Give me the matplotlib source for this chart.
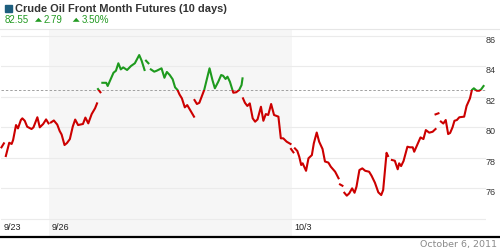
import matplotlib
matplotlib.use("Agg")
import matplotlib.pyplot as plt
from matplotlib.lines import Line2D
from matplotlib.patches import Rectangle, Polygon
import numpy as np

matplotlib.rcParams['font.family'] = ['Liberation Sans', 'DejaVu Sans']

W, H = 500, 250

TITLE = "Crude Oil Front Month Futures (10 days)"
LAST = "82.55"
CHANGE = "2.79"
CHANGE_PCT = "3.50%"
DATE_TEXT = "October 6, 2011"

REF_LEVEL = 82.4

day_labels = ["9/23", "9/26", "10/3"]
day_label_pos = [0, 1, 6]
week_shade = (1, 6)

y_ticks = [74, 76, 78, 80, 82, 84, 86]
y_tick_labels = ["", "76", "78", "80", "82", "84", "86"]

nan = np.nan
# position in trading days (0 = open of 9/23), nan = gap in the series
t = [0.02, 0.07, nan,
     0.11, 0.18, 0.23, 0.26, 0.32, 0.36, 0.42, 0.45, 0.50, 0.55, 0.64, 0.68, 0.76, 0.81, 0.88, 0.94, 0.99, nan,
     1.04, 1.10, 1.17, 1.22, 1.26, 1.32, 1.37, 1.43, 1.49, 1.54, 1.60, 1.70, 1.75, 1.81, 1.88, 1.95, 1.99, nan,
     2.01, 2.06, nan,
     2.10, 2.18, 2.21, 2.28, 2.33, 2.38, 2.43, 2.48, 2.53, 2.61, 2.69, 2.77, 2.86, 2.91, 2.97, nan,
     3.00, 3.05, nan,
     3.10, 3.17, 3.22, 3.32, 3.38, 3.43, 3.49, 3.55, 3.60, 3.65, 3.69, 3.74, 3.80, 3.85, 3.91, 3.97, 3.99, nan,
     4.00, 4.05, 4.10, 4.20, 4.25, 4.31, 4.37, 4.42, 4.49, 4.55, 4.59, 4.64, 4.68, 4.73, 4.80, 4.86, 4.92, 4.97, 4.99, nan,
     5.00, 5.04, 5.09, 5.14, 5.20, 5.25, 5.30, 5.37, 5.42, 5.47, 5.52, 5.58, 5.64, 5.73, 5.78, 5.83, 5.90, 5.98, nan,
     5.99, 6.04, nan,
     6.07, 6.12, 6.16, 6.20, 6.23, 6.30, 6.35, 6.42, 6.46, 6.52, 6.57, 6.64, 6.69, 6.76, 6.81, 6.90, 6.97, nan,
     7.00, 7.05, nan,
     7.09, 7.14, 7.19, 7.25, 7.30, 7.34, 7.40, 7.46, 7.52, 7.60, 7.65, 7.72, 7.79, 7.85, 7.89, 7.96, 7.99, nan,
     8.07, 8.13, 8.19, 8.22, 8.26, 8.31, 8.39, 8.44, 8.50, 8.53, 8.59, 8.66, 8.72, 8.77, 8.84, 8.91, 8.97, nan,
     8.97, 9.03, nan,
     9.08, 9.13, 9.18, 9.23, 9.27, 9.32, 9.36, 9.41, 9.46, 9.56, 9.61, 9.68, 9.72, 9.76, 9.82, 9.87, 9.91, 9.96]
# price, USD
p = [78.67, 78.93, nan,
     78.10, 78.97, 78.89, 79.15, 80.13, 79.91, 80.46, 80.57, 80.41, 80.02, 79.87, 79.98, 80.64, 79.98, 80.20, 80.50, 80.24, nan,
     80.30, 80.43, 80.16, 79.74, 79.51, 78.82, 78.95, 79.21, 80.03, 80.49, 80.13, 80.20, 80.62, 80.24, 80.85, 81.23, 81.55, nan,
     82.49, 82.28, nan,
     82.90, 82.90, 82.69, 83.19, 83.56, 83.69, 84.18, 83.78, 83.91, 83.74, 84.00, 84.18, 84.72, 84.35, 83.74, nan,
     84.35, 84.18, nan,
     83.78, 83.63, 83.69, 83.85, 83.23, 83.61, 83.41, 83.13, 82.60, 82.43, 82.14, 81.88, 81.29, 81.44, 81.11, 80.79, 80.68, nan,
     81.77, 81.51, 81.59, 82.43, 83.08, 83.85, 83.08, 82.54, 82.97, 83.41, 83.36, 83.15, 83.30, 82.97, 82.25, 82.28, 82.43, 82.75, 83.19, nan,
     81.88, 81.59, 81.38, 81.55, 80.57, 80.35, 80.50, 81.33, 80.41, 80.85, 80.79, 81.51, 80.79, 80.68, 79.26, 79.26, 79.04, 78.89, nan,
     78.56, 78.34, nan,
     78.60, 78.43, 78.05, 77.51, 77.62, 77.13, 77.95, 78.16, 78.93, 79.64, 79.04, 78.56, 77.74, 77.67, 77.40, 77.07, 76.64, nan,
     76.24, 76.15, nan,
     75.69, 75.50, 75.65, 75.98, 75.69, 76.09, 77.18, 77.29, 77.13, 77.07, 76.81, 76.35, 75.72, 75.54, 75.87, 78.31, 78.10, nan,
     77.84, 77.79, 77.23, 77.62, 77.44, 77.77, 78.71, 78.67, 78.67, 78.38, 78.82, 79.32, 79.21, 79.80, 79.63, 79.69, 79.87, nan,
     80.83, 80.90, nan,
     80.36, 80.23, 80.46, 79.54, 79.61, 79.98, 80.41, 80.46, 80.64, 80.68, 81.38, 81.88, 82.43, 82.54, 82.38, 82.38, 82.47, 82.69]


def fx(px):
    return px / W


def fy(py):
    return 1 - py / H


fig = plt.figure(figsize=(W / 100, H / 100), dpi=100)

# plot area
ax = fig.add_axes([fx(0.5), fy(237), (485.5 - 0.5) / W, (237 - 28.5) / H])
ax.set_xlim(0, 10)
ax.set_ylim(72.79, 86.46)
for s in ax.spines.values():
    s.set_visible(False)
ax.set_xticks([])
ax.yaxis.tick_right()
ax.set_yticks(y_ticks)
ax.set_yticklabels(y_tick_labels)
ax.tick_params(axis='y', length=0, pad=0, labelsize=6.5, labelcolor='#333333')
for lbl in ax.get_yticklabels():
    lbl.set_va('top')
ax.set_axisbelow(True)
ax.grid(axis='y', color='#ebebeb', lw=0.8)
ax.axvspan(week_shade[0], week_shade[1], color='#f6f6f6', lw=0, zorder=0)
ax.axhline(REF_LEVEL, color='#a0a0a0', lw=0.7, ls=(0, (2.5, 2)), zorder=2)

ylo, yhi = ax.get_ylim()
for color, y0, y1 in [("#cc0000", ylo - 5, REF_LEVEL), ("#1e9a1e", REF_LEVEL, yhi + 5)]:
    ln, = ax.plot(t, p, color=color, lw=1.5, zorder=3)
    ln.set_clip_path(Rectangle((-1, y0), 12, y1 - y0, transform=ax.transData))

for lbl, d in zip(day_labels, day_label_pos):
    ax.annotate(lbl, xy=(d, 0), xycoords=('data', 'axes fraction'), xytext=(2.2, 6.8),
                textcoords='offset points', fontsize=6.5, ha='left', va='center', color='#222222')

# frame lines
fig.add_artist(Line2D([0, 1], [fy(237)] * 2, transform=fig.transFigure, color='black', lw=1.6))
fig.add_artist(Line2D([0, 1], [fy(28.5)] * 2, transform=fig.transFigure, color='#e6e6e6', lw=0.8))

# header
fig.add_artist(Rectangle((fx(5), fy(11.7)), 7 / W, 7 / H, transform=fig.transFigure, color='#1d5e7e'))
fig.text(fx(15), fy(11.7), TITLE, fontsize=7.9, weight='bold', color='#333333', va='baseline')

green = '#229a22'
fig.text(fx(5), fy(23.3), LAST, fontsize=7, color=green, va='baseline')
for x0 in [35, 72.7]:
    fig.add_artist(Polygon([(fx(x0), fy(21.8)), (fx(x0 + 7), fy(21.8)), (fx(x0 + 3.5), fy(17.8))],
                           closed=True, transform=fig.transFigure, color=green, lw=0))
fig.text(fx(44), fy(23.3), CHANGE, fontsize=7, color=green, va='baseline')
fig.text(fx(81.7), fy(23.3), CHANGE_PCT, fontsize=7, color=green, va='baseline')

fig.text(fx(497), fy(246.5), DATE_TEXT, fontsize=6.8, color='#8a8a8a', ha='right', va='baseline',
         family='DejaVu Sans')

fig.savefig("out.png", dpi=100, facecolor='white')
